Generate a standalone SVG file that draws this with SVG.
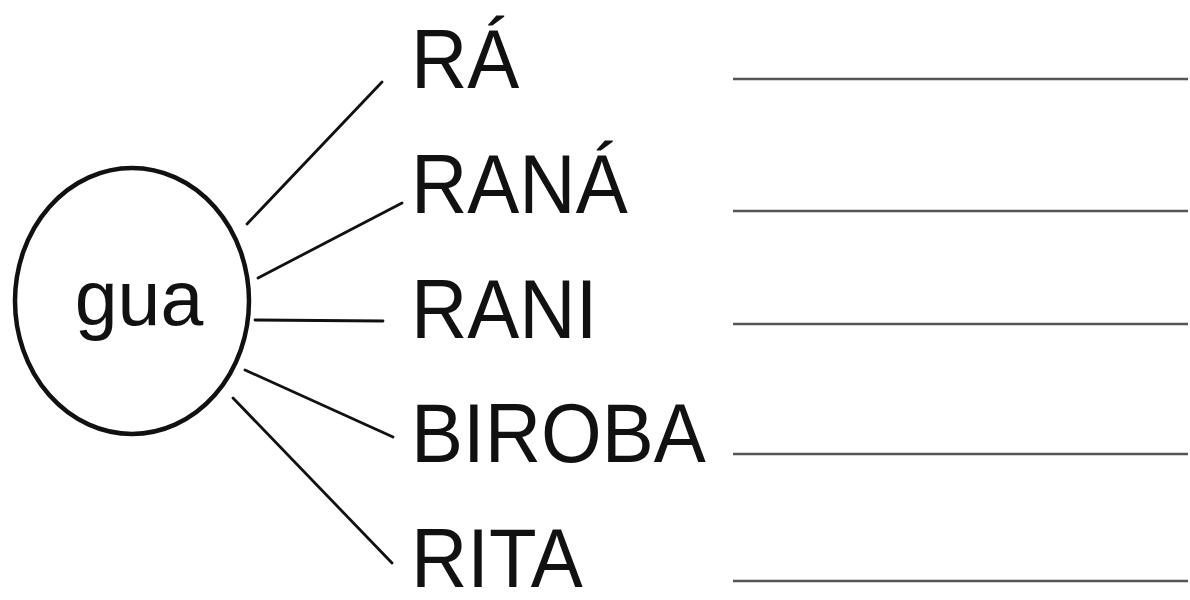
<svg xmlns="http://www.w3.org/2000/svg" width="1190" height="600" viewBox="0 0 1190 600">
<style>
.word{font-family:"Liberation Sans",Arial,sans-serif;font-size:78px;fill:#111}
.conn line{stroke:#111;stroke-width:2.8;stroke-linecap:round}
.blank{stroke:#555;stroke-width:2.6}
</style>
<rect width="1190" height="600" fill="#fff"/>
<g id="node-gua">
<ellipse cx="132" cy="301" rx="117" ry="133" fill="none" stroke="#111" stroke-width="4.5"/>
<text class="word" x="139" y="325" text-anchor="middle" style="font-size:77px">gua</text>
</g>
<g id="connectors" class="conn">
<line x1="247" y1="224" x2="382" y2="82"/>
<line x1="258" y1="278" x2="402" y2="203"/>
<line x1="255" y1="320" x2="383" y2="321"/>
<line x1="245" y1="370" x2="393" y2="437"/>
<line x1="233" y1="398" x2="392" y2="563"/>
</g>
<g id="node-ra"><text class="word" transform="translate(411,88) scale(1,1.06)">RÁ</text><line class="blank" x1="733" y1="79" x2="1188" y2="79"/></g>
<g id="node-rana"><text class="word" transform="translate(411,213) scale(1,1.06)">RANÁ</text><line class="blank" x1="733" y1="211" x2="1188" y2="211"/></g>
<g id="node-rani"><text class="word" transform="translate(411,338) scale(1,1.06)">RANI</text><line class="blank" x1="733" y1="324" x2="1188" y2="324"/></g>
<g id="node-biroba"><text class="word" transform="translate(411,462) scale(1,1.06)">BIROBA</text><line class="blank" x1="733" y1="454" x2="1188" y2="454"/></g>
<g id="node-rita"><text class="word" transform="translate(411,587) scale(1,1.06)">RITA</text><line class="blank" x1="733" y1="581" x2="1188" y2="581"/></g>
</svg>
